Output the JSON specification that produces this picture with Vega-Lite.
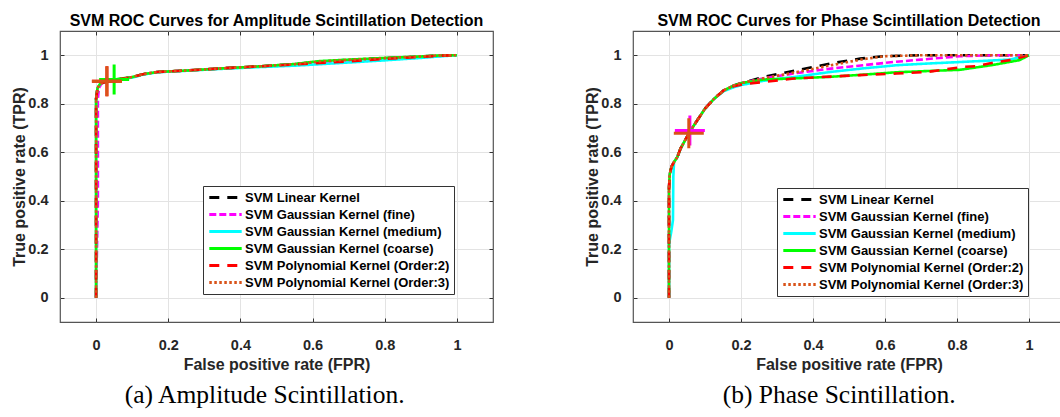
{
  "$schema": "https://vega.github.io/schema/vega-lite/v6.json",
  "padding": {"left": 11, "top": 11, "right": 0, "bottom": 0},
  "config": {
    "font": "Liberation Sans",
    "view": {"stroke": "#555555", "strokeWidth": 1.2},
    "axis": {
      "grid": true, "gridColor": "#e3e3e3", "gridWidth": 1, "domain": false,
      "tickColor": "#333333", "tickSize": -4, "tickWidth": 1,
      "labelFont": "Liberation Sans", "labelFontWeight": "bold", "labelFontSize": 14.5, "labelColor": "#262626",
      "titleFont": "Liberation Sans", "titleFontWeight": "bold", "titleFontSize": 16, "titleColor": "#262626"
    },
    "title": {"font": "Liberation Sans", "fontSize": 16, "fontWeight": "bold", "color": "#000000", "offset": 2},
    "legend": {
      "orient": "none", "title": null, "symbolType": "M-2.7,0L2.7,0", "symbolSize": 144, "symbolStrokeWidth": 3,
      "symbolOffset": 11, "labelOffset": 12, "labelLimit": 0,
      "labelFont": "Liberation Sans", "labelFontSize": 13, "labelFontWeight": "bold", "labelColor": "#000000",
      "strokeColor": "#333333", "fillColor": "#ffffff", "padding": 4, "cornerRadius": 0, "rowPadding": 2
    }
  },
  "resolve": {
    "scale": {"color": "independent", "strokeDash": "independent", "stroke": "independent", "x": "independent", "y": "independent"},
    "legend": {"color": "independent", "strokeDash": "independent"}
  },
  "datasets": {
    "ampCurves": [
      {"model": "SVM Linear Kernel", "fpr": 0, "tpr": 0},
      {"model": "SVM Linear Kernel", "fpr": 0, "tpr": 0.5},
      {"model": "SVM Linear Kernel", "fpr": 0, "tpr": 0.82},
      {"model": "SVM Linear Kernel", "fpr": 0.004, "tpr": 0.865},
      {"model": "SVM Linear Kernel", "fpr": 0.012, "tpr": 0.883},
      {"model": "SVM Linear Kernel", "fpr": 0.03, "tpr": 0.892},
      {"model": "SVM Linear Kernel", "fpr": 0.06, "tpr": 0.9},
      {"model": "SVM Linear Kernel", "fpr": 0.1, "tpr": 0.91},
      {"model": "SVM Linear Kernel", "fpr": 0.13, "tpr": 0.922},
      {"model": "SVM Linear Kernel", "fpr": 0.17, "tpr": 0.931},
      {"model": "SVM Linear Kernel", "fpr": 0.25, "tpr": 0.937},
      {"model": "SVM Linear Kernel", "fpr": 0.35, "tpr": 0.946},
      {"model": "SVM Linear Kernel", "fpr": 0.45, "tpr": 0.954},
      {"model": "SVM Linear Kernel", "fpr": 0.55, "tpr": 0.963},
      {"model": "SVM Linear Kernel", "fpr": 0.62, "tpr": 0.974},
      {"model": "SVM Linear Kernel", "fpr": 0.7, "tpr": 0.981},
      {"model": "SVM Linear Kernel", "fpr": 0.8, "tpr": 0.988},
      {"model": "SVM Linear Kernel", "fpr": 0.9, "tpr": 0.995},
      {"model": "SVM Linear Kernel", "fpr": 0.95, "tpr": 0.999},
      {"model": "SVM Linear Kernel", "fpr": 1, "tpr": 1},
      {"model": "SVM Gaussian Kernel (fine)", "fpr": 0, "tpr": 0},
      {"model": "SVM Gaussian Kernel (fine)", "fpr": 0.005, "tpr": 0.4},
      {"model": "SVM Gaussian Kernel (fine)", "fpr": 0.005, "tpr": 0.82},
      {"model": "SVM Gaussian Kernel (fine)", "fpr": 0.008, "tpr": 0.865},
      {"model": "SVM Gaussian Kernel (fine)", "fpr": 0.015, "tpr": 0.883},
      {"model": "SVM Gaussian Kernel (fine)", "fpr": 0.03, "tpr": 0.892},
      {"model": "SVM Gaussian Kernel (fine)", "fpr": 0.06, "tpr": 0.9},
      {"model": "SVM Gaussian Kernel (fine)", "fpr": 0.1, "tpr": 0.91},
      {"model": "SVM Gaussian Kernel (fine)", "fpr": 0.13, "tpr": 0.922},
      {"model": "SVM Gaussian Kernel (fine)", "fpr": 0.17, "tpr": 0.931},
      {"model": "SVM Gaussian Kernel (fine)", "fpr": 0.25, "tpr": 0.937},
      {"model": "SVM Gaussian Kernel (fine)", "fpr": 0.35, "tpr": 0.946},
      {"model": "SVM Gaussian Kernel (fine)", "fpr": 0.45, "tpr": 0.953},
      {"model": "SVM Gaussian Kernel (fine)", "fpr": 0.55, "tpr": 0.962},
      {"model": "SVM Gaussian Kernel (fine)", "fpr": 0.62, "tpr": 0.972},
      {"model": "SVM Gaussian Kernel (fine)", "fpr": 0.7, "tpr": 0.979},
      {"model": "SVM Gaussian Kernel (fine)", "fpr": 0.8, "tpr": 0.987},
      {"model": "SVM Gaussian Kernel (fine)", "fpr": 0.9, "tpr": 0.994},
      {"model": "SVM Gaussian Kernel (fine)", "fpr": 1, "tpr": 1},
      {"model": "SVM Gaussian Kernel (medium)", "fpr": 0, "tpr": 0},
      {"model": "SVM Gaussian Kernel (medium)", "fpr": 0, "tpr": 0.5},
      {"model": "SVM Gaussian Kernel (medium)", "fpr": 0, "tpr": 0.82},
      {"model": "SVM Gaussian Kernel (medium)", "fpr": 0.004, "tpr": 0.865},
      {"model": "SVM Gaussian Kernel (medium)", "fpr": 0.012, "tpr": 0.883},
      {"model": "SVM Gaussian Kernel (medium)", "fpr": 0.03, "tpr": 0.892},
      {"model": "SVM Gaussian Kernel (medium)", "fpr": 0.06, "tpr": 0.9},
      {"model": "SVM Gaussian Kernel (medium)", "fpr": 0.1, "tpr": 0.908},
      {"model": "SVM Gaussian Kernel (medium)", "fpr": 0.13, "tpr": 0.92},
      {"model": "SVM Gaussian Kernel (medium)", "fpr": 0.17, "tpr": 0.93},
      {"model": "SVM Gaussian Kernel (medium)", "fpr": 0.25, "tpr": 0.936},
      {"model": "SVM Gaussian Kernel (medium)", "fpr": 0.35, "tpr": 0.944},
      {"model": "SVM Gaussian Kernel (medium)", "fpr": 0.45, "tpr": 0.951},
      {"model": "SVM Gaussian Kernel (medium)", "fpr": 0.55, "tpr": 0.957},
      {"model": "SVM Gaussian Kernel (medium)", "fpr": 0.62, "tpr": 0.963},
      {"model": "SVM Gaussian Kernel (medium)", "fpr": 0.7, "tpr": 0.97},
      {"model": "SVM Gaussian Kernel (medium)", "fpr": 0.8, "tpr": 0.979},
      {"model": "SVM Gaussian Kernel (medium)", "fpr": 0.9, "tpr": 0.989},
      {"model": "SVM Gaussian Kernel (medium)", "fpr": 0.95, "tpr": 0.995},
      {"model": "SVM Gaussian Kernel (medium)", "fpr": 1, "tpr": 1},
      {"model": "SVM Gaussian Kernel (coarse)", "fpr": 0, "tpr": 0},
      {"model": "SVM Gaussian Kernel (coarse)", "fpr": 0, "tpr": 0.5},
      {"model": "SVM Gaussian Kernel (coarse)", "fpr": 0, "tpr": 0.82},
      {"model": "SVM Gaussian Kernel (coarse)", "fpr": 0.004, "tpr": 0.865},
      {"model": "SVM Gaussian Kernel (coarse)", "fpr": 0.012, "tpr": 0.884},
      {"model": "SVM Gaussian Kernel (coarse)", "fpr": 0.03, "tpr": 0.894},
      {"model": "SVM Gaussian Kernel (coarse)", "fpr": 0.06, "tpr": 0.902},
      {"model": "SVM Gaussian Kernel (coarse)", "fpr": 0.1, "tpr": 0.91},
      {"model": "SVM Gaussian Kernel (coarse)", "fpr": 0.13, "tpr": 0.922},
      {"model": "SVM Gaussian Kernel (coarse)", "fpr": 0.17, "tpr": 0.931},
      {"model": "SVM Gaussian Kernel (coarse)", "fpr": 0.25, "tpr": 0.937},
      {"model": "SVM Gaussian Kernel (coarse)", "fpr": 0.35, "tpr": 0.946},
      {"model": "SVM Gaussian Kernel (coarse)", "fpr": 0.45, "tpr": 0.954},
      {"model": "SVM Gaussian Kernel (coarse)", "fpr": 0.55, "tpr": 0.964},
      {"model": "SVM Gaussian Kernel (coarse)", "fpr": 0.62, "tpr": 0.976},
      {"model": "SVM Gaussian Kernel (coarse)", "fpr": 0.7, "tpr": 0.982},
      {"model": "SVM Gaussian Kernel (coarse)", "fpr": 0.8, "tpr": 0.989},
      {"model": "SVM Gaussian Kernel (coarse)", "fpr": 0.9, "tpr": 0.995},
      {"model": "SVM Gaussian Kernel (coarse)", "fpr": 0.95, "tpr": 0.999},
      {"model": "SVM Gaussian Kernel (coarse)", "fpr": 1, "tpr": 1},
      {"model": "SVM Polynomial Kernel (Order:2)", "fpr": 0, "tpr": 0},
      {"model": "SVM Polynomial Kernel (Order:2)", "fpr": 0, "tpr": 0.5},
      {"model": "SVM Polynomial Kernel (Order:2)", "fpr": 0, "tpr": 0.82},
      {"model": "SVM Polynomial Kernel (Order:2)", "fpr": 0.004, "tpr": 0.865},
      {"model": "SVM Polynomial Kernel (Order:2)", "fpr": 0.012, "tpr": 0.883},
      {"model": "SVM Polynomial Kernel (Order:2)", "fpr": 0.03, "tpr": 0.892},
      {"model": "SVM Polynomial Kernel (Order:2)", "fpr": 0.06, "tpr": 0.9},
      {"model": "SVM Polynomial Kernel (Order:2)", "fpr": 0.1, "tpr": 0.91},
      {"model": "SVM Polynomial Kernel (Order:2)", "fpr": 0.13, "tpr": 0.922},
      {"model": "SVM Polynomial Kernel (Order:2)", "fpr": 0.17, "tpr": 0.931},
      {"model": "SVM Polynomial Kernel (Order:2)", "fpr": 0.25, "tpr": 0.937},
      {"model": "SVM Polynomial Kernel (Order:2)", "fpr": 0.35, "tpr": 0.946},
      {"model": "SVM Polynomial Kernel (Order:2)", "fpr": 0.45, "tpr": 0.954},
      {"model": "SVM Polynomial Kernel (Order:2)", "fpr": 0.55, "tpr": 0.962},
      {"model": "SVM Polynomial Kernel (Order:2)", "fpr": 0.62, "tpr": 0.968},
      {"model": "SVM Polynomial Kernel (Order:2)", "fpr": 0.7, "tpr": 0.975},
      {"model": "SVM Polynomial Kernel (Order:2)", "fpr": 0.8, "tpr": 0.985},
      {"model": "SVM Polynomial Kernel (Order:2)", "fpr": 0.9, "tpr": 0.993},
      {"model": "SVM Polynomial Kernel (Order:2)", "fpr": 0.95, "tpr": 0.998},
      {"model": "SVM Polynomial Kernel (Order:2)", "fpr": 1, "tpr": 1},
      {"model": "SVM Polynomial Kernel (Order:3)", "fpr": 0, "tpr": 0},
      {"model": "SVM Polynomial Kernel (Order:3)", "fpr": 0, "tpr": 0.5},
      {"model": "SVM Polynomial Kernel (Order:3)", "fpr": 0, "tpr": 0.82},
      {"model": "SVM Polynomial Kernel (Order:3)", "fpr": 0.004, "tpr": 0.865},
      {"model": "SVM Polynomial Kernel (Order:3)", "fpr": 0.012, "tpr": 0.883},
      {"model": "SVM Polynomial Kernel (Order:3)", "fpr": 0.03, "tpr": 0.892},
      {"model": "SVM Polynomial Kernel (Order:3)", "fpr": 0.06, "tpr": 0.9},
      {"model": "SVM Polynomial Kernel (Order:3)", "fpr": 0.1, "tpr": 0.91},
      {"model": "SVM Polynomial Kernel (Order:3)", "fpr": 0.13, "tpr": 0.922},
      {"model": "SVM Polynomial Kernel (Order:3)", "fpr": 0.17, "tpr": 0.931},
      {"model": "SVM Polynomial Kernel (Order:3)", "fpr": 0.25, "tpr": 0.937},
      {"model": "SVM Polynomial Kernel (Order:3)", "fpr": 0.35, "tpr": 0.946},
      {"model": "SVM Polynomial Kernel (Order:3)", "fpr": 0.45, "tpr": 0.954},
      {"model": "SVM Polynomial Kernel (Order:3)", "fpr": 0.55, "tpr": 0.963},
      {"model": "SVM Polynomial Kernel (Order:3)", "fpr": 0.62, "tpr": 0.974},
      {"model": "SVM Polynomial Kernel (Order:3)", "fpr": 0.7, "tpr": 0.981},
      {"model": "SVM Polynomial Kernel (Order:3)", "fpr": 0.8, "tpr": 0.988},
      {"model": "SVM Polynomial Kernel (Order:3)", "fpr": 0.9, "tpr": 0.995},
      {"model": "SVM Polynomial Kernel (Order:3)", "fpr": 0.95, "tpr": 0.999},
      {"model": "SVM Polynomial Kernel (Order:3)", "fpr": 1, "tpr": 1}
    ],
    "ampPts": [
      {"model": "SVM Gaussian Kernel (coarse)", "fpr": 0.05, "tpr": 0.9},
      {"model": "SVM Polynomial Kernel (Order:2)", "fpr": 0.03, "tpr": 0.893},
      {"model": "SVM Polynomial Kernel (Order:3)", "fpr": 0.03, "tpr": 0.893}
    ],
    "phaseCurves": [
      {"model": "SVM Linear Kernel", "fpr": 0, "tpr": 0},
      {"model": "SVM Linear Kernel", "fpr": 0, "tpr": 0.45},
      {"model": "SVM Linear Kernel", "fpr": 0.002, "tpr": 0.51},
      {"model": "SVM Linear Kernel", "fpr": 0.007, "tpr": 0.54},
      {"model": "SVM Linear Kernel", "fpr": 0.014, "tpr": 0.56},
      {"model": "SVM Linear Kernel", "fpr": 0.023, "tpr": 0.58},
      {"model": "SVM Linear Kernel", "fpr": 0.032, "tpr": 0.615},
      {"model": "SVM Linear Kernel", "fpr": 0.045, "tpr": 0.65},
      {"model": "SVM Linear Kernel", "fpr": 0.06, "tpr": 0.69},
      {"model": "SVM Linear Kernel", "fpr": 0.08, "tpr": 0.735},
      {"model": "SVM Linear Kernel", "fpr": 0.1, "tpr": 0.78},
      {"model": "SVM Linear Kernel", "fpr": 0.125, "tpr": 0.82},
      {"model": "SVM Linear Kernel", "fpr": 0.152, "tpr": 0.855},
      {"model": "SVM Linear Kernel", "fpr": 0.18, "tpr": 0.875},
      {"model": "SVM Linear Kernel", "fpr": 0.203, "tpr": 0.886},
      {"model": "SVM Linear Kernel", "fpr": 0.263, "tpr": 0.911},
      {"model": "SVM Linear Kernel", "fpr": 0.356, "tpr": 0.938},
      {"model": "SVM Linear Kernel", "fpr": 0.448, "tpr": 0.966},
      {"model": "SVM Linear Kernel", "fpr": 0.531, "tpr": 0.986},
      {"model": "SVM Linear Kernel", "fpr": 0.596, "tpr": 0.996},
      {"model": "SVM Linear Kernel", "fpr": 0.7, "tpr": 1},
      {"model": "SVM Linear Kernel", "fpr": 1, "tpr": 1},
      {"model": "SVM Gaussian Kernel (fine)", "fpr": 0, "tpr": 0},
      {"model": "SVM Gaussian Kernel (fine)", "fpr": 0, "tpr": 0.45},
      {"model": "SVM Gaussian Kernel (fine)", "fpr": 0.002, "tpr": 0.51},
      {"model": "SVM Gaussian Kernel (fine)", "fpr": 0.007, "tpr": 0.54},
      {"model": "SVM Gaussian Kernel (fine)", "fpr": 0.014, "tpr": 0.56},
      {"model": "SVM Gaussian Kernel (fine)", "fpr": 0.023, "tpr": 0.58},
      {"model": "SVM Gaussian Kernel (fine)", "fpr": 0.032, "tpr": 0.615},
      {"model": "SVM Gaussian Kernel (fine)", "fpr": 0.045, "tpr": 0.65},
      {"model": "SVM Gaussian Kernel (fine)", "fpr": 0.06, "tpr": 0.69},
      {"model": "SVM Gaussian Kernel (fine)", "fpr": 0.08, "tpr": 0.735},
      {"model": "SVM Gaussian Kernel (fine)", "fpr": 0.1, "tpr": 0.78},
      {"model": "SVM Gaussian Kernel (fine)", "fpr": 0.125, "tpr": 0.82},
      {"model": "SVM Gaussian Kernel (fine)", "fpr": 0.152, "tpr": 0.855},
      {"model": "SVM Gaussian Kernel (fine)", "fpr": 0.18, "tpr": 0.875},
      {"model": "SVM Gaussian Kernel (fine)", "fpr": 0.203, "tpr": 0.886},
      {"model": "SVM Gaussian Kernel (fine)", "fpr": 0.263, "tpr": 0.905},
      {"model": "SVM Gaussian Kernel (fine)", "fpr": 0.356, "tpr": 0.927},
      {"model": "SVM Gaussian Kernel (fine)", "fpr": 0.45, "tpr": 0.945},
      {"model": "SVM Gaussian Kernel (fine)", "fpr": 0.54, "tpr": 0.959},
      {"model": "SVM Gaussian Kernel (fine)", "fpr": 0.623, "tpr": 0.972},
      {"model": "SVM Gaussian Kernel (fine)", "fpr": 0.7, "tpr": 0.982},
      {"model": "SVM Gaussian Kernel (fine)", "fpr": 0.808, "tpr": 0.996},
      {"model": "SVM Gaussian Kernel (fine)", "fpr": 0.9, "tpr": 1},
      {"model": "SVM Gaussian Kernel (fine)", "fpr": 1, "tpr": 1},
      {"model": "SVM Gaussian Kernel (medium)", "fpr": 0, "tpr": 0},
      {"model": "SVM Gaussian Kernel (medium)", "fpr": 0, "tpr": 0.22},
      {"model": "SVM Gaussian Kernel (medium)", "fpr": 0.006, "tpr": 0.27},
      {"model": "SVM Gaussian Kernel (medium)", "fpr": 0.011, "tpr": 0.32},
      {"model": "SVM Gaussian Kernel (medium)", "fpr": 0.012, "tpr": 0.5},
      {"model": "SVM Gaussian Kernel (medium)", "fpr": 0.014, "tpr": 0.56},
      {"model": "SVM Gaussian Kernel (medium)", "fpr": 0.023, "tpr": 0.58},
      {"model": "SVM Gaussian Kernel (medium)", "fpr": 0.032, "tpr": 0.615},
      {"model": "SVM Gaussian Kernel (medium)", "fpr": 0.045, "tpr": 0.65},
      {"model": "SVM Gaussian Kernel (medium)", "fpr": 0.06, "tpr": 0.69},
      {"model": "SVM Gaussian Kernel (medium)", "fpr": 0.08, "tpr": 0.735},
      {"model": "SVM Gaussian Kernel (medium)", "fpr": 0.1, "tpr": 0.78},
      {"model": "SVM Gaussian Kernel (medium)", "fpr": 0.125, "tpr": 0.82},
      {"model": "SVM Gaussian Kernel (medium)", "fpr": 0.152, "tpr": 0.852},
      {"model": "SVM Gaussian Kernel (medium)", "fpr": 0.18, "tpr": 0.868},
      {"model": "SVM Gaussian Kernel (medium)", "fpr": 0.203, "tpr": 0.878},
      {"model": "SVM Gaussian Kernel (medium)", "fpr": 0.263, "tpr": 0.895},
      {"model": "SVM Gaussian Kernel (medium)", "fpr": 0.356, "tpr": 0.912},
      {"model": "SVM Gaussian Kernel (medium)", "fpr": 0.448, "tpr": 0.931},
      {"model": "SVM Gaussian Kernel (medium)", "fpr": 0.54, "tpr": 0.946},
      {"model": "SVM Gaussian Kernel (medium)", "fpr": 0.633, "tpr": 0.959},
      {"model": "SVM Gaussian Kernel (medium)", "fpr": 0.72, "tpr": 0.966},
      {"model": "SVM Gaussian Kernel (medium)", "fpr": 0.808, "tpr": 0.972},
      {"model": "SVM Gaussian Kernel (medium)", "fpr": 0.946, "tpr": 0.982},
      {"model": "SVM Gaussian Kernel (medium)", "fpr": 1, "tpr": 1},
      {"model": "SVM Gaussian Kernel (coarse)", "fpr": 0, "tpr": 0},
      {"model": "SVM Gaussian Kernel (coarse)", "fpr": 0, "tpr": 0.45},
      {"model": "SVM Gaussian Kernel (coarse)", "fpr": 0.002, "tpr": 0.51},
      {"model": "SVM Gaussian Kernel (coarse)", "fpr": 0.007, "tpr": 0.54},
      {"model": "SVM Gaussian Kernel (coarse)", "fpr": 0.014, "tpr": 0.56},
      {"model": "SVM Gaussian Kernel (coarse)", "fpr": 0.023, "tpr": 0.58},
      {"model": "SVM Gaussian Kernel (coarse)", "fpr": 0.032, "tpr": 0.615},
      {"model": "SVM Gaussian Kernel (coarse)", "fpr": 0.045, "tpr": 0.65},
      {"model": "SVM Gaussian Kernel (coarse)", "fpr": 0.06, "tpr": 0.69},
      {"model": "SVM Gaussian Kernel (coarse)", "fpr": 0.08, "tpr": 0.735},
      {"model": "SVM Gaussian Kernel (coarse)", "fpr": 0.1, "tpr": 0.78},
      {"model": "SVM Gaussian Kernel (coarse)", "fpr": 0.125, "tpr": 0.82},
      {"model": "SVM Gaussian Kernel (coarse)", "fpr": 0.152, "tpr": 0.855},
      {"model": "SVM Gaussian Kernel (coarse)", "fpr": 0.18, "tpr": 0.875},
      {"model": "SVM Gaussian Kernel (coarse)", "fpr": 0.203, "tpr": 0.886},
      {"model": "SVM Gaussian Kernel (coarse)", "fpr": 0.263, "tpr": 0.9},
      {"model": "SVM Gaussian Kernel (coarse)", "fpr": 0.356, "tpr": 0.905},
      {"model": "SVM Gaussian Kernel (coarse)", "fpr": 0.448, "tpr": 0.911},
      {"model": "SVM Gaussian Kernel (coarse)", "fpr": 0.54, "tpr": 0.92},
      {"model": "SVM Gaussian Kernel (coarse)", "fpr": 0.633, "tpr": 0.93},
      {"model": "SVM Gaussian Kernel (coarse)", "fpr": 0.72, "tpr": 0.935},
      {"model": "SVM Gaussian Kernel (coarse)", "fpr": 0.808, "tpr": 0.94},
      {"model": "SVM Gaussian Kernel (coarse)", "fpr": 0.9, "tpr": 0.96},
      {"model": "SVM Gaussian Kernel (coarse)", "fpr": 0.974, "tpr": 0.98},
      {"model": "SVM Gaussian Kernel (coarse)", "fpr": 1, "tpr": 1},
      {"model": "SVM Polynomial Kernel (Order:2)", "fpr": 0, "tpr": 0},
      {"model": "SVM Polynomial Kernel (Order:2)", "fpr": 0, "tpr": 0.45},
      {"model": "SVM Polynomial Kernel (Order:2)", "fpr": 0.002, "tpr": 0.51},
      {"model": "SVM Polynomial Kernel (Order:2)", "fpr": 0.007, "tpr": 0.54},
      {"model": "SVM Polynomial Kernel (Order:2)", "fpr": 0.014, "tpr": 0.56},
      {"model": "SVM Polynomial Kernel (Order:2)", "fpr": 0.023, "tpr": 0.58},
      {"model": "SVM Polynomial Kernel (Order:2)", "fpr": 0.032, "tpr": 0.615},
      {"model": "SVM Polynomial Kernel (Order:2)", "fpr": 0.045, "tpr": 0.65},
      {"model": "SVM Polynomial Kernel (Order:2)", "fpr": 0.06, "tpr": 0.69},
      {"model": "SVM Polynomial Kernel (Order:2)", "fpr": 0.08, "tpr": 0.735},
      {"model": "SVM Polynomial Kernel (Order:2)", "fpr": 0.1, "tpr": 0.78},
      {"model": "SVM Polynomial Kernel (Order:2)", "fpr": 0.125, "tpr": 0.82},
      {"model": "SVM Polynomial Kernel (Order:2)", "fpr": 0.152, "tpr": 0.855},
      {"model": "SVM Polynomial Kernel (Order:2)", "fpr": 0.18, "tpr": 0.872},
      {"model": "SVM Polynomial Kernel (Order:2)", "fpr": 0.203, "tpr": 0.88},
      {"model": "SVM Polynomial Kernel (Order:2)", "fpr": 0.263, "tpr": 0.89},
      {"model": "SVM Polynomial Kernel (Order:2)", "fpr": 0.347, "tpr": 0.904},
      {"model": "SVM Polynomial Kernel (Order:2)", "fpr": 0.448, "tpr": 0.912},
      {"model": "SVM Polynomial Kernel (Order:2)", "fpr": 0.53, "tpr": 0.918},
      {"model": "SVM Polynomial Kernel (Order:2)", "fpr": 0.633, "tpr": 0.925},
      {"model": "SVM Polynomial Kernel (Order:2)", "fpr": 0.716, "tpr": 0.931},
      {"model": "SVM Polynomial Kernel (Order:2)", "fpr": 0.817, "tpr": 0.952},
      {"model": "SVM Polynomial Kernel (Order:2)", "fpr": 0.854, "tpr": 0.955},
      {"model": "SVM Polynomial Kernel (Order:2)", "fpr": 0.91, "tpr": 0.972},
      {"model": "SVM Polynomial Kernel (Order:2)", "fpr": 0.946, "tpr": 0.98},
      {"model": "SVM Polynomial Kernel (Order:2)", "fpr": 1, "tpr": 1},
      {"model": "SVM Polynomial Kernel (Order:3)", "fpr": 0, "tpr": 0},
      {"model": "SVM Polynomial Kernel (Order:3)", "fpr": 0, "tpr": 0.45},
      {"model": "SVM Polynomial Kernel (Order:3)", "fpr": 0.002, "tpr": 0.51},
      {"model": "SVM Polynomial Kernel (Order:3)", "fpr": 0.007, "tpr": 0.54},
      {"model": "SVM Polynomial Kernel (Order:3)", "fpr": 0.014, "tpr": 0.56},
      {"model": "SVM Polynomial Kernel (Order:3)", "fpr": 0.023, "tpr": 0.58},
      {"model": "SVM Polynomial Kernel (Order:3)", "fpr": 0.032, "tpr": 0.615},
      {"model": "SVM Polynomial Kernel (Order:3)", "fpr": 0.045, "tpr": 0.65},
      {"model": "SVM Polynomial Kernel (Order:3)", "fpr": 0.06, "tpr": 0.69},
      {"model": "SVM Polynomial Kernel (Order:3)", "fpr": 0.08, "tpr": 0.735},
      {"model": "SVM Polynomial Kernel (Order:3)", "fpr": 0.1, "tpr": 0.78},
      {"model": "SVM Polynomial Kernel (Order:3)", "fpr": 0.125, "tpr": 0.82},
      {"model": "SVM Polynomial Kernel (Order:3)", "fpr": 0.152, "tpr": 0.855},
      {"model": "SVM Polynomial Kernel (Order:3)", "fpr": 0.18, "tpr": 0.875},
      {"model": "SVM Polynomial Kernel (Order:3)", "fpr": 0.203, "tpr": 0.886},
      {"model": "SVM Polynomial Kernel (Order:3)", "fpr": 0.263, "tpr": 0.905},
      {"model": "SVM Polynomial Kernel (Order:3)", "fpr": 0.356, "tpr": 0.931},
      {"model": "SVM Polynomial Kernel (Order:3)", "fpr": 0.448, "tpr": 0.958},
      {"model": "SVM Polynomial Kernel (Order:3)", "fpr": 0.54, "tpr": 0.984},
      {"model": "SVM Polynomial Kernel (Order:3)", "fpr": 0.6, "tpr": 0.996},
      {"model": "SVM Polynomial Kernel (Order:3)", "fpr": 0.7, "tpr": 1},
      {"model": "SVM Polynomial Kernel (Order:3)", "fpr": 1, "tpr": 1}
    ],
    "phasePts": [
      {"model": "SVM Gaussian Kernel (fine)", "fpr": 0.058, "tpr": 0.69},
      {"model": "SVM Polynomial Kernel (Order:3)", "fpr": 0.055, "tpr": 0.678}
    ]
  },
  "spacing": 89,
  "hconcat": [
    {
      "title": {"text": "(a) Amplitude Scintillation.", "orient": "bottom", "anchor": "middle", "font": "Liberation Serif", "fontSize": 25.5, "fontWeight": "normal", "color": "#000000", "offset": 10, "dx": 12},
      "vconcat": [
        {
          "width": 433, "height": 291,
          "title": {"text": "SVM ROC Curves for Amplitude Scintillation Detection"},
          "resolve": {"axis": {"x": "independent", "y": "independent"}},
          "layer": [
            {
              "data": {"name": "ampCurves"},
              "mark": {"type": "line", "strokeWidth": 2.6, "clip": true},
              "encoding": {
                "x": {"field": "fpr", "type": "quantitative", "scale": {"domain": [-0.1, 1.1], "nice": false, "zero": false},
                      "axis": {"orient": "bottom", "values": [0, 0.2, 0.4, 0.6, 0.8, 1], "format": "~g", "labelPadding": 20, "titlePadding": 5}, "title": "False positive rate (FPR)"},
                "y": {"field": "tpr", "type": "quantitative", "scale": {"domain": [-0.1, 1.1], "nice": false, "zero": false},
                      "axis": {"orient": "left", "values": [0, 0.2, 0.4, 0.6, 0.8, 1], "format": "~g", "labelPadding": 16, "titlePadding": 0}, "title": "True positive rate (TPR)"},
                "color": {"field": "model", "type": "nominal",
                          "scale": {"domain": ["SVM Linear Kernel", "SVM Gaussian Kernel (fine)", "SVM Gaussian Kernel (medium)", "SVM Gaussian Kernel (coarse)", "SVM Polynomial Kernel (Order:2)", "SVM Polynomial Kernel (Order:3)"],
                                    "range": ["#000000", "#ff00ff", "#00ffff", "#00ff00", "#ff0000", "#d95319"]},
                          "legend": {"orient": "none", "legendX": 143, "legendY": 155}},
                "strokeDash": {"field": "model", "type": "nominal",
                          "scale": {"domain": ["SVM Linear Kernel", "SVM Gaussian Kernel (fine)", "SVM Gaussian Kernel (medium)", "SVM Gaussian Kernel (coarse)", "SVM Polynomial Kernel (Order:2)", "SVM Polynomial Kernel (Order:3)"],
                                    "range": [[10, 8], [7, 3], [1, 0], [1, 0], [10, 8], [2.5, 2.5]]},
                          "legend": {"orient": "none", "legendX": 143, "legendY": 155}},
                "order": [{"field": "fpr"}, {"field": "tpr"}]
              }
            },
            {
              "data": {"name": "ampPts"},
              "mark": {"type": "point", "shape": "M-1,0L1,0M0,-1L0,1", "filled": false, "strokeWidth": 3, "size": 900, "opacity": 1},
              "encoding": {
                "x": {"field": "fpr", "type": "quantitative", "scale": {"domain": [-0.1, 1.1], "nice": false, "zero": false},
                      "axis": {"orient": "top", "values": [0, 0.2, 0.4, 0.6, 0.8, 1], "labels": false, "grid": false, "title": null}},
                "y": {"field": "tpr", "type": "quantitative", "scale": {"domain": [-0.1, 1.1], "nice": false, "zero": false},
                      "axis": {"orient": "right", "values": [0, 0.2, 0.4, 0.6, 0.8, 1], "labels": false, "grid": false, "title": null}},
                "stroke": {"field": "model", "type": "nominal",
                          "scale": {"domain": ["SVM Linear Kernel", "SVM Gaussian Kernel (fine)", "SVM Gaussian Kernel (medium)", "SVM Gaussian Kernel (coarse)", "SVM Polynomial Kernel (Order:2)", "SVM Polynomial Kernel (Order:3)"],
                                    "range": ["#000000", "#ff00ff", "#00ffff", "#00ff00", "#ff0000", "#d95319"]},
                          "legend": null},
                "order": {"field": "fpr", "sort": "descending"}
              }
            }
          ]
        }
      ]
    },
    {
      "title": {"text": "(b) Phase Scintillation.", "orient": "bottom", "anchor": "middle", "font": "Liberation Serif", "fontSize": 25.5, "fontWeight": "normal", "color": "#000000", "offset": 10, "dx": 14},
      "vconcat": [
        {
          "width": 432, "height": 291,
          "title": {"text": "SVM ROC Curves for Phase Scintillation Detection"},
          "resolve": {"axis": {"x": "independent", "y": "independent"}},
          "layer": [
            {
              "data": {"name": "phaseCurves"},
              "mark": {"type": "line", "strokeWidth": 2.6, "clip": true},
              "encoding": {
                "x": {"field": "fpr", "type": "quantitative", "scale": {"domain": [-0.1, 1.1], "nice": false, "zero": false},
                      "axis": {"orient": "bottom", "values": [0, 0.2, 0.4, 0.6, 0.8, 1], "format": "~g", "labelPadding": 20, "titlePadding": 5}, "title": "False positive rate (FPR)"},
                "y": {"field": "tpr", "type": "quantitative", "scale": {"domain": [-0.1, 1.1], "nice": false, "zero": false},
                      "axis": {"orient": "left", "values": [0, 0.2, 0.4, 0.6, 0.8, 1], "format": "~g", "labelPadding": 16, "titlePadding": 0}, "title": "True positive rate (TPR)"},
                "color": {"field": "model", "type": "nominal",
                          "scale": {"domain": ["SVM Linear Kernel", "SVM Gaussian Kernel (fine)", "SVM Gaussian Kernel (medium)", "SVM Gaussian Kernel (coarse)", "SVM Polynomial Kernel (Order:2)", "SVM Polynomial Kernel (Order:3)"],
                                    "range": ["#000000", "#ff00ff", "#00ffff", "#00ff00", "#ff0000", "#d95319"]},
                          "legend": {"orient": "none", "legendX": 144, "legendY": 157}},
                "strokeDash": {"field": "model", "type": "nominal",
                          "scale": {"domain": ["SVM Linear Kernel", "SVM Gaussian Kernel (fine)", "SVM Gaussian Kernel (medium)", "SVM Gaussian Kernel (coarse)", "SVM Polynomial Kernel (Order:2)", "SVM Polynomial Kernel (Order:3)"],
                                    "range": [[10, 8], [7, 3], [1, 0], [1, 0], [10, 8], [2.5, 2.5]]},
                          "legend": {"orient": "none", "legendX": 144, "legendY": 157}},
                "order": [{"field": "fpr"}, {"field": "tpr"}]
              }
            },
            {
              "data": {"name": "phasePts"},
              "mark": {"type": "point", "shape": "M-1,0L1,0M0,-1L0,1", "filled": false, "strokeWidth": 3, "size": 900, "opacity": 1},
              "encoding": {
                "x": {"field": "fpr", "type": "quantitative", "scale": {"domain": [-0.1, 1.1], "nice": false, "zero": false},
                      "axis": {"orient": "top", "values": [0, 0.2, 0.4, 0.6, 0.8, 1], "labels": false, "grid": false, "title": null}},
                "y": {"field": "tpr", "type": "quantitative", "scale": {"domain": [-0.1, 1.1], "nice": false, "zero": false},
                      "axis": {"orient": "right", "values": [0, 0.2, 0.4, 0.6, 0.8, 1], "labels": false, "grid": false, "title": null}},
                "stroke": {"field": "model", "type": "nominal",
                          "scale": {"domain": ["SVM Linear Kernel", "SVM Gaussian Kernel (fine)", "SVM Gaussian Kernel (medium)", "SVM Gaussian Kernel (coarse)", "SVM Polynomial Kernel (Order:2)", "SVM Polynomial Kernel (Order:3)"],
                                    "range": ["#000000", "#ff00ff", "#00ffff", "#00ff00", "#ff0000", "#d95319"]},
                          "legend": null},
                "order": {"field": "fpr", "sort": "descending"}
              }
            }
          ]
        }
      ]
    }
  ]
}
